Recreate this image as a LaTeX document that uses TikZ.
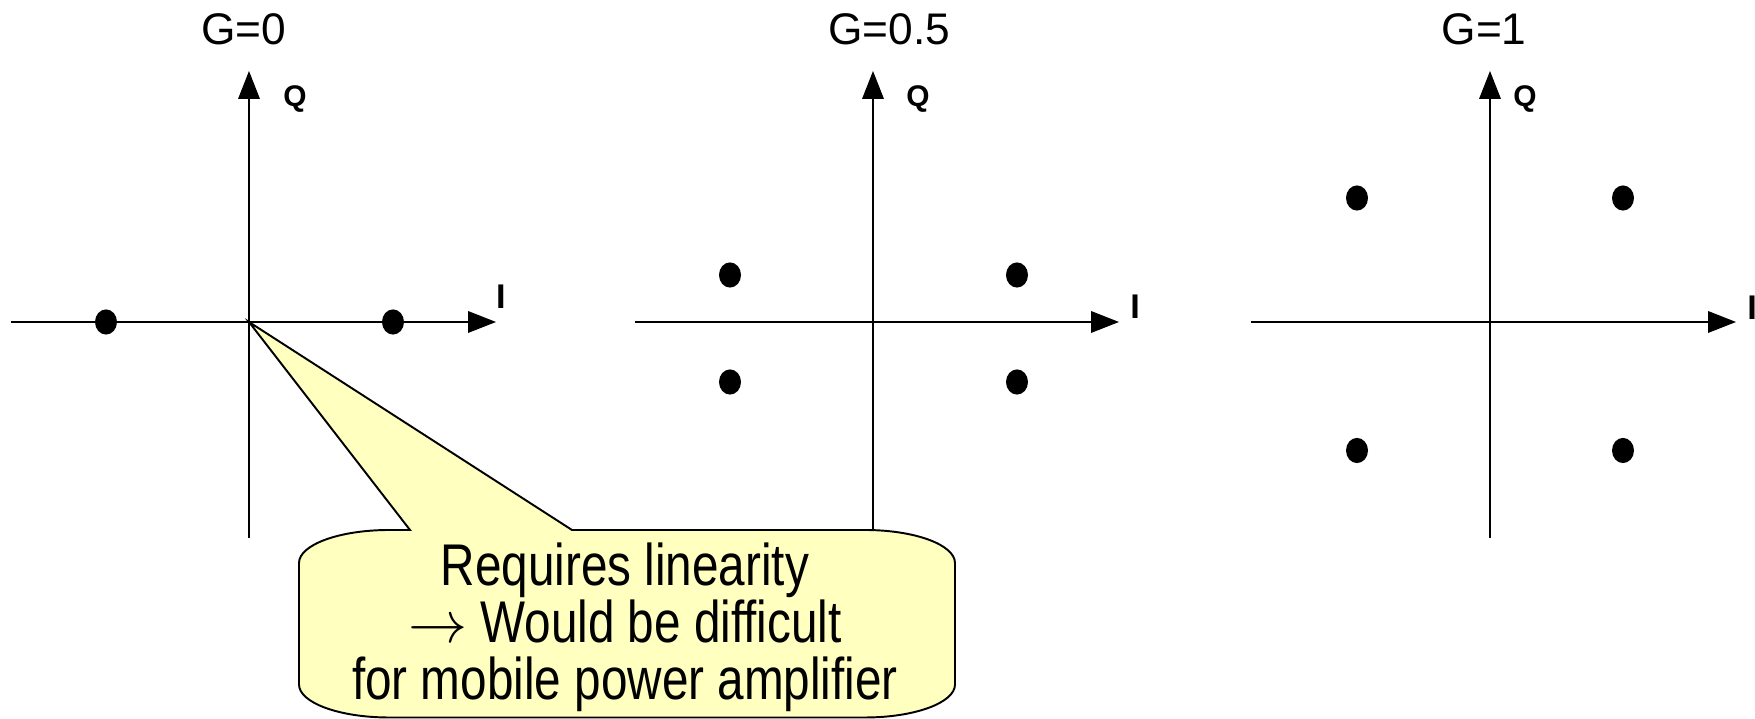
\documentclass[tikz,border=0pt]{standalone}
\usepackage{fontspec}
\setmainfont{Liberation Sans}
\newfontfamily\narrowfont{Liberation Sans}[FakeStretch=0.81]
\usetikzlibrary{arrows.meta}
\definecolor{NoteFill}{HTML}{FFFFC0}

\begin{document}
\begin{tikzpicture}[x=0.02cm,y=0.02cm,
    axis/.style={line width=0.8pt,-{Triangle[length=15.9pt,width=12.3pt]}},
    gtitle/.style={font=\fontsize{25.2}{30}\selectfont},
    qlabel/.style={font=\bfseries\fontsize{17}{20}\selectfont},
    ilabel/.style={font=\bfseries\fontsize{19.5}{23}\selectfont}]
    \useasboundingbox (0,0) rectangle (1755,719);
    % the three constellations
    \foreach \n/\ox/\xl/\xr/\tx/\qx/\ix/\iy/\gain in {
      1/249/11/496/244/295/501/422/0,
      2/873/635/1119/889/918/1135/412/0.5,
      3/1490/1251/1736/1484/1525/1752/411/1}
    {
      \coordinate (o\n) at (\ox,397);
      \draw[axis] (\xl,397) -- (\xr,397);
      \draw[axis] (\ox,181) -- (\ox,648);
      \node[gtitle] (g\n) at (\tx,690) {G=\gain};
      \node[qlabel] (q\n) at (\qx,620) {Q};
      \node[ilabel] (i\n) at (\ix,\iy) {I};
    }
    \foreach \x/\y in {106/397,393/397,
      730/444,1017/444,730/337,1017/337,
      1357/521,1623/521,1357/268.5,1623/268.5}
      \fill (\x,\y) ellipse[x radius=0.22cm,y radius=0.252cm];
    % callout
    \draw[line width=1.1pt,fill=NoteFill,line join=miter]
      (o1) -- (572,189) -- (865,189)
      arc[start angle=90,end angle=0,x radius=1.8cm,y radius=0.66cm]
      -- (955,34.5)
      arc[start angle=0,end angle=-90,x radius=1.8cm,y radius=0.66cm]
      -- (389,1.5)
      arc[start angle=270,end angle=180,x radius=1.8cm,y radius=0.66cm]
      -- (299,156)
      arc[start angle=180,end angle=90,x radius=1.8cm,y radius=0.66cm]
      -- (410,189) -- cycle;
    \node[inner sep=0pt,align=center,font=\narrowfont\fontsize{33.5}{32.4}\selectfont] (note) at (625,91.3)
      {Requires linearity\\\scalebox{1.35}{$\rightarrow$} Would be difficult\\for mobile power amplifier};
\end{tikzpicture}
\end{document}
